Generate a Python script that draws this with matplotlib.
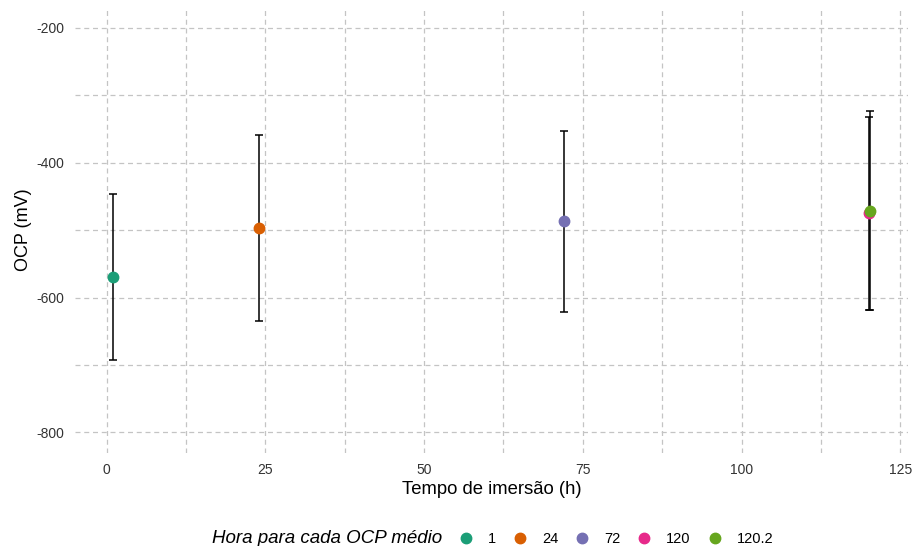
import matplotlib.pyplot as plt
from matplotlib.lines import Line2D
from matplotlib.ticker import MultipleLocator

plt.rcParams['font.family'] = ['Liberation Sans', 'DejaVu Sans']
plt.rcParams['axes.unicode_minus'] = False

# mean OCP per immersion time, with standard deviation
horas = [1, 24, 72, 120, 120.2]
rotulos = ['1', '24', '72', '120', '120.2']
ocp_medio = [-569, -497, -487, -475, -471]
desvio = [123, 138, 134, 143, 147]
cores = ['#1B9E77', '#D95F02', '#7570B3', '#E7298A', '#66A61E']

fig = plt.figure(figsize=(9.15, 5.46), dpi=100)
ax = fig.add_axes([0.082, 0.171, 0.91, 0.815])

for h, m, s in zip(horas, ocp_medio, desvio):
    ax.errorbar(h, m, yerr=s, fmt='none', ecolor='black', elinewidth=1.1,
                capsize=2.6, capthick=1.1, zorder=2)
for h, m, c in zip(horas, ocp_medio, cores):
    ax.plot(h, m, 'o', color=c, markersize=7.5, zorder=3)

ax.set_xlim(-4.96, 126.16)
ax.set_ylim(-830, -170)
ax.xaxis.set_major_locator(MultipleLocator(25))
ax.xaxis.set_minor_locator(MultipleLocator(12.5))
ax.yaxis.set_major_locator(MultipleLocator(200))
ax.yaxis.set_minor_locator(MultipleLocator(100))

ax.grid(True, which='both', linestyle=(0, (4, 3)), color='#c4c4c4', linewidth=0.9)
ax.set_axisbelow(True)
for sp in ax.spines.values():
    sp.set_visible(False)
ax.tick_params(which='both', length=0, labelsize=10, labelcolor='#333333')
ax.tick_params(axis='x', pad=7.5)
ax.tick_params(axis='y', pad=8)

ax.set_xlabel('Tempo de imersão (h)', fontsize=13.3, labelpad=3)
ax.set_ylabel('OCP (mV)', fontsize=13, labelpad=3)

# legend at the bottom, title on the left side
handles = [Line2D([], [], marker='o', linestyle='none', color=c, markersize=7.5)
           for c in cores]
fig.text(0.483, 0.0135, 'Hora para cada OCP médio', fontsize=13.5, style='italic',
         ha='right', va='center')
fig.legend(handles, rotulos, loc='center left', bbox_to_anchor=(0.483, 0.0135),
           ncol=5, frameon=False, fontsize=10.5, handletextpad=0.75,
           columnspacing=0.9, handlelength=1.5)

fig.savefig('out.png', dpi=100)
